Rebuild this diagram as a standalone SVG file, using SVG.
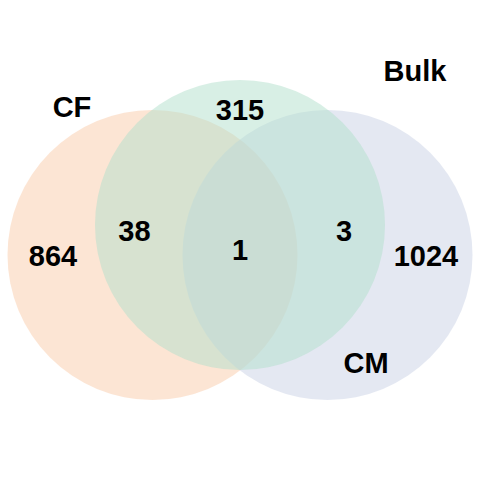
<svg xmlns="http://www.w3.org/2000/svg" width="480" height="480" viewBox="0 0 480 480">
<style>
.c{fill-opacity:0.5;stroke:none}
text{font-family:"Liberation Sans",Arial,sans-serif;font-weight:bold;font-size:29px;fill:#000;text-anchor:middle}
</style>
<rect width="480" height="480" fill="#fff"/>
<g id="CF"><circle class="c" cx="152.5" cy="255" r="145" fill="#F9CBA9"/><text x="72" y="117">CF</text></g>
<g id="CM"><circle class="c" cx="327.5" cy="255" r="145" fill="#C9D1E5"/><text x="366" y="373">CM</text></g>
<g id="Bulk"><circle class="c" cx="240" cy="225" r="145" fill="#B1DFCB"/><text x="415" y="81">Bulk</text></g>
<g id="connectors"/>
<g id="counts">
<text x="53" y="266">864</text>
<text x="134.5" y="241">38</text>
<text x="240" y="260">1</text>
<text x="344" y="241">3</text>
<text x="426" y="266">1024</text>
<text x="240" y="120">315</text>
</g>
</svg>
